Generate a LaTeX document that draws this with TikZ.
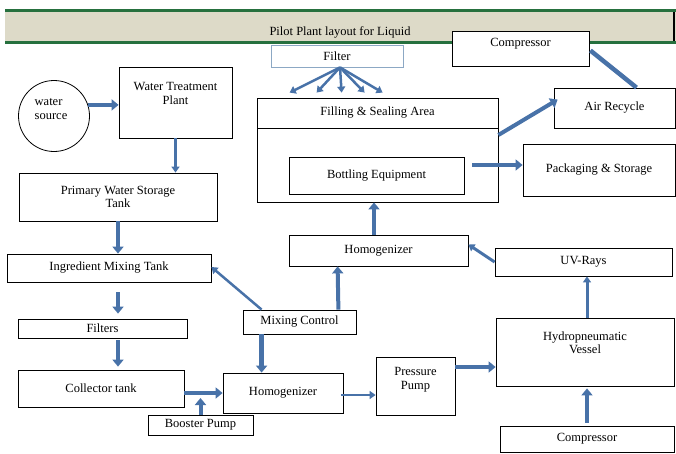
\documentclass[tikz,border=0pt]{standalone}
\usepackage{fontspec}
\setmainfont{Liberation Serif}
\usetikzlibrary{arrows.meta, positioning, calc, shadows}
\definecolor{colPipe}{RGB}{72,114,168}
\definecolor{colBand}{RGB}{221,218,200}
\definecolor{colRule}{RGB}{38,112,62}
\definecolor{colFilter}{RGB}{140,168,196}

\begin{document}
\begin{tikzpicture}[x=1pt, y=-1pt,
    every node/.style={font=\fontsize{12.5}{13.5}\selectfont},
    box/.style={draw, fill=white, line width=0.8pt, inner sep=0pt, align=center,
        drop shadow={shadow xshift=1.2pt, shadow yshift=-1.2pt, opacity=0.3}},
    toplabel/.style={align=center, anchor=north, inner sep=0pt},
    pipe/.style={colPipe, line width=4pt, -{Triangle[length=7pt, width=11pt]}},
    thinpipe/.style={colPipe, line width=2.5pt, -{Triangle[length=6pt, width=8pt]}}]
    \useasboundingbox (0,0) rectangle (676,453);

    % title band
    \fill[colBand] (5,11) rectangle (676,42);
    \draw[colRule, line width=3pt] (5,10) -- (676,10);
    \draw[colRule, line width=3pt] (5,42) -- (676,42);
    \draw[line width=1.2pt] (674,12) -- (674,41);
    \node (title) at (340,32) {Pilot Plant layout for Liquid};

    % left column
    \node[draw, circle, fill=white, line width=0.8pt, minimum size=71,
        label={[align=left, inner sep=0pt, xshift=-3pt, yshift=7pt]center:water\\source}] (water) at (54,116) {};
    \node[box, minimum width=113, minimum height=71,
        label={[toplabel, yshift=-16pt]north:Water Treatment\\Plant}] (wtp) at (175.5,102.5) {};
    \node[box, minimum width=198, minimum height=48] (pws) at (118,197) {Primary Water Storage\\Tank};
    \node[box, minimum width=204, minimum height=28] (ing) at (109,268) {Ingredient Mixing Tank};
    \node[box, minimum width=169, minimum height=19] (filt) at (102.5,328.5) {Filters};
    \node[box, minimum width=166, minimum height=37] (coll) at (101,388.5) {Collector tank};
    \node[box, minimum width=105, minimum height=20] (boost) at (200.5,425) {Booster Pump};

    % middle
    \node[box, minimum width=120, minimum height=40] (homL) at (283,393) {Homogenizer};
    \node[box, minimum width=113, minimum height=24] (mix) at (299.5,322) {Mixing Control};
    \node[box, minimum width=179, minimum height=31] (homU) at (378.5,250.5) {Homogenizer};
    \node[box, minimum width=241, minimum height=104] (fill) at (377.5,150) {};
    \node[draw, fill=white, line width=0.8pt, minimum width=241, minimum height=30] (fillhd) at (377.5,113) {Filling \& Sealing Area};
    \node[box, minimum width=175, minimum height=37] (bott) at (376.5,175.5) {Bottling Equipment};
    \node[draw=colFilter, fill=white, line width=0.8pt, minimum width=132, minimum height=22] (filter) at (337,56) {Filter};
    \node[box, minimum width=79, minimum height=58,
        label={[toplabel, yshift=-11pt]north:Pressure\\Pump}] (pp) at (415.5,386) {};

    % right column
    \node[box, minimum width=137, minimum height=35,
        label={[toplabel, yshift=-7pt]north:Compressor}] (comp1) at (520.5,48.5) {};
    \node[box, minimum width=121, minimum height=40] (air) at (614.5,108) {Air Recycle};
    \node[box, minimum width=152, minimum height=52] (pack) at (599,170) {Packaging \& Storage};
    \node[box, minimum width=177, minimum height=28] (uv) at (583.5,262) {UV-Rays};
    \node[box, minimum width=178, minimum height=68,
        label={[toplabel, yshift=-14pt]north:Hydropneumatic\\Vessel}] (hyd) at (585,352) {};
    \node[box, minimum width=174, minimum height=26] (comp2) at (587,439) {Compressor};

    % flow
    \draw[pipe] (water.18) -- (water.18 -| wtp.west);
    \draw[thinpipe] (wtp.south) -- (wtp.south |- pws.north);
    \draw[pipe] (pws.south) -- (pws.south |- ing.north);
    \draw[pipe] ($(ing.south -| pws.south)+(0,10)$) -- ($(filt.north -| pws.south)+(0,-5)$);
    \draw[pipe] ($(filt.south -| pws.south)+(0,2)$) -- ($(coll.north -| pws.south)+(0,-3)$);
    \draw[pipe] (coll.east |- homL.west) -- (homL.west);
    \draw[pipe] (boost.north) -- ($(boost.north |- homL.west)+(0,5)$);
    \draw[pipe, line width=5pt] ($(mix.south west)+(19,0)$) -- ($(homL.north west)+(39,0)$);
    \draw[thinpipe] ($(mix.north west)+(19,0)$) -- ($(ing.east)+(0,-1)$);
    \draw[pipe] ($(mix.north east)+(-18,0)$) -- ($(homU.south west)+(49,0)$);
    \draw[pipe] ($(homU.north)+(-4.5,0)$) -- ($(fill.south)+(-3.5,0)$);
    \foreach \dx in {33,60,85,108,126}
        \draw[thinpipe] ($(filter.south)+(3,0)$) -- ($(fillhd.north west)+(\dx,-5)$);
    \draw[pipe] ($(bott.east)+(8,-10.5)$) -- ($(pack.west)+(0,-5)$);
    \draw[pipe] ($(fill.east)+(0,-15)$) -- ($(air.north west)+(4,12)$);
    \draw[colPipe, line width=4.5pt] ($(comp1.east)+(1,2)$) -- ($(air.north)+(22,0)$);
    \draw[thinpipe, line width=3pt] (uv.west) -- ($(homU.east)+(0,-6)$);
    \draw[thinpipe, line width=3pt] ($(hyd.north)+(2,0)$) -- ($(uv.south)+(3.5,0)$);
    \draw[pipe] ($(comp2.north)+(0,-3)$) -- ($(hyd.south)+(2,2)$);
    \draw[thinpipe] ($(homL.east)+(-2,2)$) -- ($(pp.west)+(0,9)$);
    \draw[pipe] ($(pp.east)+(0,-19)$) -- ($(hyd.west)+(0,15)$);
\end{tikzpicture}
\end{document}
